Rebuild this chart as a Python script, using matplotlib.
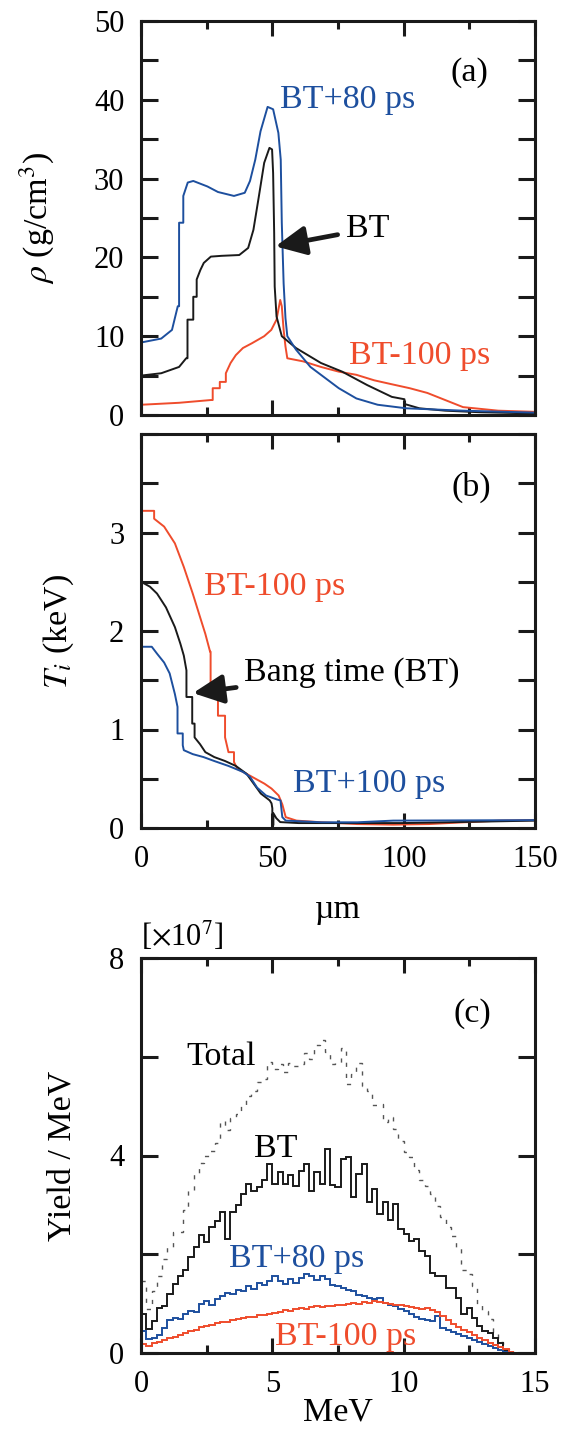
"""
Hydro profiles (density, ion temperature) and neutron spectra around bang time.
Three stacked panels (a), (b), (c).
"""

import numpy as np
import matplotlib
matplotlib.use("Agg")
import matplotlib.pyplot as plt
from matplotlib.ticker import MultipleLocator, NullFormatter

plt.rcParams["font.family"] = ["Liberation Serif", "DejaVu Serif"]
plt.rcParams["mathtext.fontset"] = "stix"

BLUE    = "#1d4f9e"
RED     = "#ef4c2c"
BLACK   = "#1a1a1a"
FS      = 24.5   # annotations / axis labels
FS_TICK = 22

# ── (a) density vs radius ────────────────────────────────────────────────────
a_blue_x = [0, 7.7, 11.8, 14.0, 14.5, 14.5, 16.1, 16.1, 17.8, 19.9, 25.3, 29.3, 35.4,
            39.5, 41.5, 43.5, 45.5, 48.2, 50.3, 52.3, 53.2, 53.6, 54.3, 55.0, 55.7,
            59, 64.5, 75.3, 82, 90.1, 101, 122.6, 150]
a_blue_y = [9.2, 9.7, 10.8, 13.8, 13.8, 24.4, 24.4, 27.8, 29.5, 29.7, 29.0, 28.3, 27.8,
            28.2, 29.7, 32.4, 36.0, 39.1, 38.8, 35.8, 32.4, 24.4, 16.7, 12.3, 10.0,
            8.3, 6.1, 3.4, 2.1, 1.3, 0.85, 0.55, 0.3]

a_black_x = [0, 7.7, 14.5, 17.2, 17.7, 17.7, 19.9, 19.9, 21.2, 21.2, 22.6, 23.9, 26.6,
             30.7, 37.4, 40.8, 42.8, 44.9, 46.9, 48.9, 49.9, 50.3, 50.7, 50.9, 51.6,
             53.6, 59, 68.5, 76.6, 86.1, 95.5, 100.3, 100.3, 106, 115.8, 129, 150]
a_black_y = [5.0, 5.3, 6.1, 7.2, 7.2, 12.1, 12.1, 15.0, 15.0, 17.2, 18.4, 19.3, 20.1,
             20.2, 20.3, 21.2, 23.5, 27.8, 32.0, 33.9, 33.7, 30.7, 23.1, 16.3, 12.5,
             10.0, 8.5, 6.6, 5.5, 3.8, 2.3, 2.0, 1.4, 0.85, 0.55, 0.35, 0.2]

a_red_x = [0, 14.5, 26.6, 27.3, 27.3, 30, 30, 32.3, 32.3, 34.1, 36.1, 38.8, 42.2, 46.9,
           49.6, 51.6, 53.0, 53.6, 54.3, 55.0, 55.7, 61.8, 68.5, 75.3, 82, 88.8, 95.5,
           102.3, 109, 115.8, 122.6, 136, 150]
a_red_y = [1.3, 1.55, 1.9, 1.9, 3.4, 3.4, 4.2, 4.2, 5.3, 6.6, 7.6, 8.5, 9.1, 10.0,
           10.8, 12.1, 14.6, 13.8, 10.8, 8.7, 7.2, 6.8, 6.1, 5.5, 5.1, 4.4, 3.9,
           3.4, 2.8, 1.9, 1.0, 0.55, 0.4]

# ── (b) ion temperature vs radius ────────────────────────────────────────────
b_red_x = [0, 5.0, 5.0, 8.8, 12.9, 16.3, 19.7, 22.5, 24.5, 26.3, 26.5, 26.5, 29.3, 29.3,
           32.0, 32.0, 33.3, 35.4, 35.4, 36.7, 40.2, 43.6, 47.0, 49.7, 52.4, 53.8,
           55.1, 59.2, 68.7, 82.4, 96, 109.6, 123, 136.8, 150]
b_red_y = [3.22, 3.22, 3.14, 3.06, 2.89, 2.65, 2.38, 2.14, 1.97, 1.79, 1.79, 1.36, 1.36,
           1.14, 1.14, 0.92, 0.77, 0.77, 0.67, 0.60, 0.55, 0.50, 0.45, 0.40, 0.33,
           0.24, 0.11, 0.075, 0.058, 0.04, 0.034, 0.04, 0.058, 0.075, 0.08]

b_black_x = [0, 3.4, 6.1, 9.5, 12.9, 15.0, 16.3, 17.3, 17.3, 19.5, 19.5, 20.4, 20.4,
             22.5, 24.5, 27.9, 32.0, 36.1, 40.2, 42.9, 45.6, 49.0, 49.7, 50.0, 50.0,
             50.4, 50.4, 51.5, 53, 60, 100, 150]
b_black_y = [2.50, 2.45, 2.38, 2.24, 2.04, 1.87, 1.75, 1.60, 1.33, 1.33, 1.06, 1.06,
             0.92, 0.85, 0.77, 0.72, 0.68, 0.63, 0.55, 0.45, 0.35, 0.28, 0.25, 0.20,
             0.03, 0.03, 0.15, 0.10, 0.06, 0.05, 0.05, 0.075]

b_blue_x = [0, 4.1, 6.1, 8.8, 10.9, 12.9, 13.9, 13.9, 15.9, 15.9, 16.3, 19.7, 23.8,
            27.9, 33.3, 38.8, 41.5, 44.2, 47.6, 51.7, 53.1, 53.8, 55.1, 68.7, 82.4,
            96, 150]
b_blue_y = [1.84, 1.84, 1.77, 1.68, 1.57, 1.36, 1.23, 0.96, 0.96, 0.84, 0.79, 0.75,
            0.72, 0.68, 0.63, 0.57, 0.52, 0.41, 0.33, 0.29, 0.28, 0.11, 0.075, 0.058,
            0.058, 0.075, 0.08]

# ── (c) neutron spectra, 0.2 MeV bins from 0 MeV  [x1e7 / MeV] ───────────────
BIN_W = 0.2
c_total = [1.45, 0.90, 1.25, 1.55, 1.90, 2.15, 2.45, 2.45, 2.90, 3.30,
           3.62, 3.85, 3.98, 4.10, 4.25, 4.70, 4.52, 4.76, 4.85, 5.00,
           5.20, 5.30, 5.48, 5.55, 5.90, 5.75, 5.86, 5.70, 5.88, 5.82,
           5.86, 6.07, 5.95, 6.24, 6.34, 6.10, 5.86, 5.88, 6.17, 5.45,
           5.66, 5.88, 5.40, 5.30, 5.02, 5.05, 4.68, 4.78, 4.54, 4.30,
           4.07, 3.97, 3.70, 3.50, 3.38, 3.22, 2.98, 2.75, 2.55, 2.37,
           2.15, 1.69, 1.59, 1.36, 1.00, 0.85, 0.68, 0.40, 0.22, 0.08, 0.02]
c_bt = [0.80, 0.48, 0.64, 0.92, 0.95, 1.20, 1.40, 1.55, 1.68, 1.95,
        2.14, 2.40, 2.24, 2.56, 2.68, 2.85, 2.31, 2.85, 3.00, 3.22,
        3.42, 3.28, 3.36, 3.50, 3.83, 3.42, 3.66, 3.42, 3.60, 3.39,
        3.69, 3.83, 3.29, 3.66, 3.42, 4.14, 3.40, 3.36, 3.93, 3.97,
        3.15, 3.63, 3.83, 3.05, 3.32, 2.81, 3.05, 2.70, 3.02, 2.51,
        2.41, 2.27, 2.31, 2.07, 1.97, 1.63, 1.56, 1.56, 1.32, 1.32,
        1.12, 0.78, 0.92, 0.71, 0.54, 0.44, 0.41, 0.31, 0.20, 0.07, 0.02]
c_bt80 = [0.45, 0.28, 0.30, 0.36, 0.50, 0.66, 0.70, 0.68, 0.80, 0.86,
          0.84, 1.00, 1.05, 0.98, 1.10, 1.15, 1.22, 1.20, 1.28, 1.25,
          1.35, 1.30, 1.42, 1.38, 1.45, 1.56, 1.45, 1.40, 1.50, 1.42,
          1.52, 1.60, 1.55, 1.48, 1.55, 1.50, 1.38, 1.35, 1.32, 1.28,
          1.25, 1.18, 1.15, 1.12, 1.10, 1.12, 1.02, 0.98, 0.95, 0.90,
          0.86, 0.80, 0.72, 0.68, 0.66, 0.65, 0.74, 0.50, 0.46, 0.42,
          0.38, 0.34, 0.31, 0.26, 0.22, 0.18, 0.14, 0.10, 0.06, 0.03, 0.01]
c_bt100 = [0.18, 0.15, 0.20, 0.22, 0.26, 0.30, 0.32, 0.37, 0.40, 0.45,
           0.47, 0.52, 0.54, 0.56, 0.60, 0.62, 0.62, 0.66, 0.68, 0.70,
           0.72, 0.73, 0.77, 0.76, 0.80, 0.82, 0.83, 0.87, 0.86, 0.90,
           0.92, 0.90, 0.94, 0.95, 0.93, 0.96, 0.95, 0.98, 0.97, 1.00,
           1.02, 1.00, 1.03, 1.02, 1.05, 1.03, 1.01, 1.00, 0.98, 0.97,
           0.95, 0.93, 0.92, 0.90, 0.91, 0.88, 0.83, 0.74, 0.66, 0.58,
           0.52, 0.47, 0.42, 0.36, 0.30, 0.26, 0.21, 0.16, 0.12, 0.08, 0.03]


def style_axes(ax, xmaj, xmin, ymaj, ymin, xlabels=True):
    for s in ax.spines.values():
        s.set_linewidth(2.2)
        s.set_color(BLACK)
    ax.xaxis.set_major_locator(MultipleLocator(xmaj))
    ax.xaxis.set_minor_locator(MultipleLocator(xmin))
    ax.yaxis.set_major_locator(MultipleLocator(ymaj))
    ax.yaxis.set_minor_locator(MultipleLocator(ymin))
    ax.tick_params(which="both", direction="in", top=True, right=True,
                   width=2.2, color=BLACK, labelsize=FS_TICK)
    ax.tick_params(axis="x", which="major", length=11, pad=12)
    ax.tick_params(axis="x", which="minor", length=6)
    ax.tick_params(axis="y", which="both", length=12, pad=12)
    if not xlabels:
        ax.xaxis.set_major_formatter(NullFormatter())


ARROW = dict(arrowstyle="-|>,head_length=0.75,head_width=0.36",
             lw=3.4, color=BLACK, shrinkA=4, shrinkB=0)

fig = plt.figure(figsize=(5.61, 14.32), dpi=100)
W = 394 / 561
H = 394 / 1432
L = 141 / 561
ax_a = fig.add_axes([L, (1432 - 415) / 1432, W, H])
ax_b = fig.add_axes([L, (1432 - 828) / 1432, W, H])
ax_c = fig.add_axes([L, (1432 - 1353) / 1432, W, 395 / 1432])

# ── panel (a) ────────────────────────────────────────────────────────────────
ax_a.plot(a_red_x, a_red_y, color=RED, lw=1.4)
ax_a.plot(a_black_x, a_black_y, color=BLACK, lw=1.4)
ax_a.plot(a_blue_x, a_blue_y, color=BLUE, lw=1.4)
ax_a.set_xlim(0, 150)
ax_a.set_ylim(0, 50)
style_axes(ax_a, 50, 25, 10, 5, xlabels=False)
ax_a.set_ylabel(r"$\rho$ (g/cm$^3$)", fontsize=FS)
ax_a.yaxis.set_label_coords(-0.215, 0.5)
ax_a.text(125, 43.4, "(a)", fontsize=FS, ha="center", va="center")
ax_a.text(53, 40, "BT+80 ps", color=BLUE, fontsize=FS, ha="left", va="center")
ax_a.text(79, 7.5, "BT-100 ps", color=RED, fontsize=FS, ha="left", va="center")
ax_a.annotate("BT", xy=(51.2, 21.4), xytext=(78, 23.6), fontsize=FS,
              ha="left", va="center", arrowprops=ARROW)

# ── panel (b) ────────────────────────────────────────────────────────────────
ax_b.plot(b_red_x, b_red_y, color=RED, lw=1.4)
ax_b.plot(b_black_x, b_black_y, color=BLACK, lw=1.4)
ax_b.plot(b_blue_x, b_blue_y, color=BLUE, lw=1.4)
ax_b.set_xlim(0, 150)
ax_b.set_ylim(0, 4)
style_axes(ax_b, 50, 25, 1, 0.5)
ax_b.set_yticks([0, 1, 2, 3])
ax_b.set_ylabel(r"$T_i$ (keV)", fontsize=FS)
ax_b.yaxis.set_label_coords(-0.165, 0.5)
ax_b.set_xlabel("µm", fontsize=FS)
ax_b.xaxis.set_label_coords(0.5, -0.17)
ax_b.text(125.6, 3.46, "(b)", fontsize=FS, ha="center", va="center")
ax_b.text(23.8, 2.45, "BT-100 ps", color=RED, fontsize=FS, ha="left", va="center")
ax_b.text(57.8, 0.45, "BT+100 ps", color=BLUE, fontsize=FS, ha="left", va="center")
ax_b.annotate("Bang time (BT)", xy=(19.8, 1.37), xytext=(39.4, 1.58), fontsize=FS,
              ha="left", va="center", arrowprops=ARROW)

# ── panel (c) ────────────────────────────────────────────────────────────────
edges = np.arange(len(c_bt) + 1) * BIN_W
ax_c.stairs(c_total, edges, baseline=None, color="#555555", lw=1.0,
            linestyle=(0, (3, 5)))
ax_c.stairs(c_bt, edges, baseline=None, color=BLACK, lw=1.4)
ax_c.stairs(c_bt80, edges, baseline=None, color=BLUE, lw=1.4)
ax_c.stairs(c_bt100, edges, baseline=None, color=RED, lw=1.4)
ax_c.set_xlim(0, 15)
ax_c.set_ylim(0, 8)
style_axes(ax_c, 5, 2.5, 4, 2)
ax_c.set_ylabel("Yield / MeV", fontsize=FS)
ax_c.yaxis.set_label_coords(-0.16, 0.5)
ax_c.set_xlabel("MeV", fontsize=FS)
ax_c.xaxis.set_label_coords(0.5, -0.112)
ax_c.text(0, 1.012, r"[$\times$10$^7$]", transform=ax_c.transAxes, fontsize=FS_TICK,
          ha="left", va="bottom")
ax_c.text(12.6, 6.87, "(c)", fontsize=FS, ha="center", va="center")
ax_c.text(1.73, 6.0, "Total", fontsize=FS, ha="left", va="center")
ax_c.text(4.3, 4.14, "BT", fontsize=FS, ha="left", va="center")
ax_c.text(3.36, 1.9, "BT+80 ps", color=BLUE, fontsize=FS, ha="left", va="center")
ax_c.text(5.12, 0.32, "BT-100 ps", color=RED, fontsize=FS, ha="left", va="center")

fig.savefig("out.png", dpi=100)
